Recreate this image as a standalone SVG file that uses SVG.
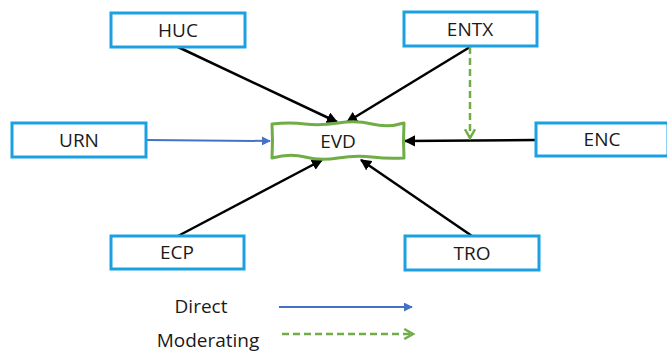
<svg xmlns="http://www.w3.org/2000/svg" width="667" height="354" viewBox="0 0 667 354">
<style>
.box{fill:#fff;stroke:#1ba1e2;stroke-width:3}
.lbl{font-family:"Open Sans","Liberation Sans",sans-serif;font-size:19px;fill:#1a1a1a;text-anchor:middle}
.blk{stroke:#000;stroke-width:2.5;fill:none}
</style>
<defs>
<marker id="ab" viewBox="0 0 10 10" refX="9" refY="5" markerWidth="4.5" markerHeight="4.5" orient="auto" markerUnits="strokeWidth"><path d="M0,0 L10,5 L0,10 z" fill="#000"/></marker>
<marker id="au" viewBox="0 0 10 10" refX="9" refY="5" markerWidth="4.5" markerHeight="4.5" orient="auto" markerUnits="strokeWidth"><path d="M0,0 L10,5 L0,10 z" fill="#4472c4"/></marker>
<marker id="ag" viewBox="0 0 10 10" refX="8" refY="5" markerWidth="5" markerHeight="5" orient="auto" markerUnits="strokeWidth"><path d="M1,1 L8,5 L1,9" fill="none" stroke="#70ad47" stroke-width="2"/></marker>
</defs>
<g id="connectors">
<line class="blk" x1="178" y1="47" x2="337" y2="122" marker-end="url(#ab)"/>
<line class="blk" x1="470" y1="47" x2="347" y2="122" marker-end="url(#ab)"/>
<line class="blk" x1="178" y1="236" x2="322" y2="160" marker-end="url(#ab)"/>
<line class="blk" x1="472" y1="236" x2="361" y2="160" marker-end="url(#ab)"/>
<line class="blk" x1="536" y1="140" x2="405" y2="141" marker-end="url(#ab)"/>
<line x1="146" y1="140" x2="270" y2="141" stroke="#4472c4" stroke-width="2" marker-end="url(#au)"/>
<line x1="470" y1="47" x2="470" y2="138" stroke="#70ad47" stroke-width="2.5" stroke-dasharray="7,4" marker-end="url(#ag)"/>
</g>
<g id="HUC"><rect class="box" x="111" y="13" width="134" height="34"/><text class="lbl" x="178" y="37">HUC</text></g>
<g id="ENTX"><rect class="box" x="404" y="12" width="133" height="34"/><text class="lbl" x="470" y="36">ENTX</text></g>
<g id="URN"><rect class="box" x="12" y="123" width="134" height="34"/><text class="lbl" x="79" y="147">URN</text></g>
<g id="ENC"><rect class="box" x="536" y="123" width="132" height="33"/><text class="lbl" x="602" y="146">ENC</text></g>
<g id="ECP"><rect class="box" x="111" y="236" width="133" height="33"/><text class="lbl" x="177" y="259">ECP</text></g>
<g id="TRO"><rect class="box" x="405" y="236" width="134" height="34"/><text class="lbl" x="472" y="260">TRO</text></g>
<g id="EVD"><path d="M272,124 Q290,122 305,124 T338,123 T372,124 T404,123 Q403,141 404,158 Q388,159 372,157 T338,158 T305,157 T272,158 Q273,141 272,124 z" fill="#fff" stroke="#70ad47" stroke-width="3" stroke-linejoin="round"/><text class="lbl" x="338" y="148">EVD</text></g>
<g id="legend">
<text class="lbl" x="201" y="313">Direct</text>
<line x1="279" y1="307" x2="412" y2="307" stroke="#4472c4" stroke-width="2" marker-end="url(#au)"/>
<line x1="282" y1="334" x2="413" y2="334" stroke="#70ad47" stroke-width="2.5" stroke-dasharray="7,4" marker-end="url(#ag)"/>
<text class="lbl" x="208" y="347">Moderating</text>
</g>
</svg>
